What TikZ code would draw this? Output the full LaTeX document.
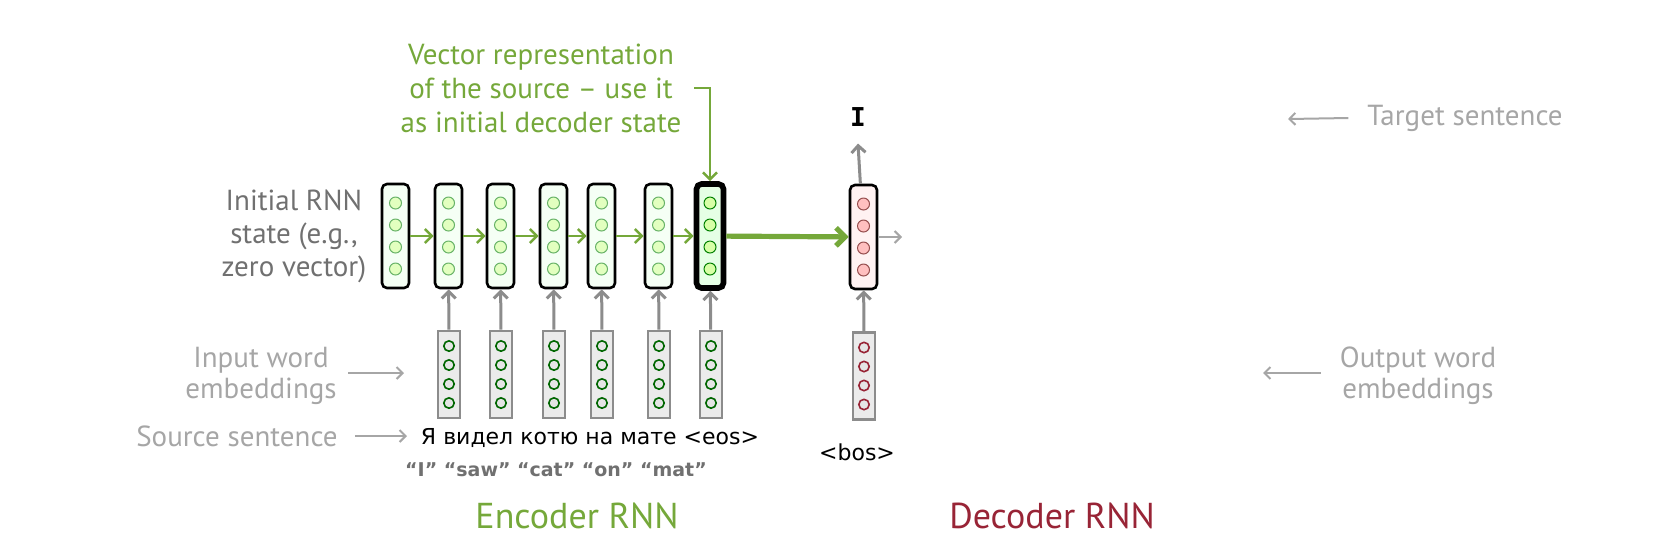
\documentclass[tikz,border=0pt]{standalone}
\usepackage{fontspec}
\setmainfont{PT Sans}
\newfontfamily\comicfont{DejaVu Sans}
\newfontfamily\typefont{DejaVu Sans Mono}
\usetikzlibrary{arrows.meta,positioning,calc}

\definecolor{encgreen}{RGB}{117,168,58}
\definecolor{decred}{RGB}{152,36,54}
\definecolor{labelgray}{RGB}{166,166,166}
\definecolor{darkgray}{RGB}{112,112,112}
\definecolor{arrowgray}{RGB}{140,140,140}

\begin{document}
\begin{tikzpicture}[x=0.5pt, y=-0.5pt,
    state/.style={draw=black, line width=1.3pt, rounded corners=2.5pt, fill=green!4,
        minimum width=13.5pt, minimum height=52pt, inner sep=0pt},
    last state/.style={state, line width=2.8pt, fill=green!10},
    dec state/.style={state, fill=red!5},
    emb/.style={draw=arrowgray, line width=1.3pt, fill=black!8,
        minimum width=11pt, minimum height=43.5pt, inner sep=0pt},
    cell/.style={draw=green!50!black!60, fill=green!45!yellow!25, line width=0.5pt},
    emb cell/.style={draw=green!40!black, fill=black!10, line width=0.8pt},
    dec cell/.style={draw=red!40!black!70, fill=red!25, line width=0.5pt},
    dec emb cell/.style={draw=decred, fill=black!10, line width=0.8pt},
    rnn arrow/.style={-{Straight Barb[length=3.5pt,width=7pt]}, draw=encgreen, line width=1.3pt},
    up arrow/.style={-{Straight Barb[length=3.5pt,width=7pt]}, draw=arrowgray, line width=1.5pt},
    note arrow/.style={-{Straight Barb[length=3pt,width=6pt]}, draw=labelgray, line width=1pt},
    note/.style={align=center, font=\fontsize{14.5}{16.5}\selectfont},
    word/.style={font=\comicfont\fontsize{11}{13}\selectfont}]

    \useasboundingbox (0,0) rectangle (1668,554);

    % Encoder states
    \node[state] (s0) at (395.5,236) {};
    \node[state] (s1) at (448.5,236) {};
    \node[state] (s2) at (500.5,236) {};
    \node[state] (s3) at (553.5,236) {};
    \node[state] (s4) at (601.5,236) {};
    \node[state] (s5) at (658.5,236) {};
    \node[last state] (s6) at (710,236) {};

    % Input word embeddings
    \node[emb] (e1) at (449,374.5) {};
    \node[emb] (e2) at (501,374.5) {};
    \node[emb] (e3) at (554,374.5) {};
    \node[emb] (e4) at (602,374.5) {};
    \node[emb] (e5) at (659,374.5) {};
    \node[emb] (e6) at (711,374.5) {};

    % Decoder
    \node[dec state] (d0) at (863.5,237) {};
    \node[emb] (de0) at (864,376) {};

    \foreach \s in {s0,s1,s2,s3,s4,s5}
        \foreach \dy in {-33,-11,11,33}
            \draw[cell] ($(\s)+(0,\dy)$) circle (3pt);
    \foreach \dy in {-33,-11,11,33}
        \draw[cell, draw=green!50!black, fill=green!45!yellow!35] ($(s6)+(0,\dy)$) circle (3pt);
    \foreach \dy in {-33,-11,11,33}
        \draw[dec cell] ($(d0)+(0,\dy)$) circle (3pt);
    \foreach \e in {e1,e2,e3,e4,e5,e6}
        \foreach \dy in {-28.5,-9.5,9.5,28.5}
            \draw[emb cell] ($(\e)+(0,\dy)$) circle (2.6pt);
    \foreach \dy in {-28.5,-9.5,9.5,28.5}
        \draw[dec emb cell] ($(de0)+(0,\dy)$) circle (2.6pt);

    % Recurrent connections
    \draw[rnn arrow] (s0) -- (s1);
    \draw[rnn arrow] (s1) -- (s2);
    \draw[rnn arrow] (s2) -- (s3);
    \draw[rnn arrow] (s3) -- (s4);
    \draw[rnn arrow] (s4) -- (s5);
    \draw[rnn arrow] (s5) -- (s6);
    \draw[rnn arrow, line width=2.6pt, -{Straight Barb[length=4.5pt,width=9pt]}]
        (s6) -- (d0);

    % Embeddings into states
    \foreach \i in {1,...,6}
        \draw[up arrow] (e\i) -- (s\i);
    \draw[up arrow] (de0) -- (d0);

    % Decoder output
    \node[font=\typefont\bfseries\fontsize{13}{13}\selectfont] (out) at (858,117) {I};
    \draw[up arrow] (d0) -- ([yshift=-5pt]out.south);
    \coordinate (dnext) at (902,237);
    \draw[note arrow, draw=labelgray] (d0) -- (dnext);

    % Vector representation
    \node[note, text=encgreen, font=\fontsize{14.5}{17}\selectfont] (vec) at (541,88)
        {Vector representation\\of the source -- use it\\as initial decoder state};
    \coordinate (vecbend) at (710,88);
    \draw[rnn arrow] ([xshift=3pt]vec.east) -- (vecbend) -- (s6);

    % Words
    \node[word] (src) at (590,438) {Я видел котю на мате <eos>};
    \node[word, text=darkgray, font=\comicfont\bfseries\fontsize{9.5}{11}\selectfont] (gloss) at (556,470)
        {“I” “saw” “cat” “on” “mat”};
    \node[word] (bos) at (857,452) {<bos>};

    % Left notes
    \node[note, text=darkgray] (init) at (294,236) {Initial RNN\\state (e.g.,\\zero vector)};
    \node[note, text=labelgray, font=\fontsize{14.5}{15.5}\selectfont] (inemb) at (261,376) {Input word\\embeddings};
    \node[note, text=labelgray] (srcnote) at (237,436) {Source sentence};
    \coordinate (inemb end) at (404,373);
    \coordinate (src end) at (407,436);
    \draw[note arrow] (348,373) -- (inemb end);
    \draw[note arrow] ([xshift=5pt]srcnote.east) -- (src end);

    % Right notes
    \node[note, text=labelgray] (tgtnote) at (1465,118) {Target sentence};
    \node[note, text=labelgray, font=\fontsize{14.5}{15.5}\selectfont] (outemb) at (1418,376) {Output word\\embeddings};
    \coordinate (tgt end) at (1288,119);
    \coordinate (outemb end) at (1263,373);
    \draw[note arrow] ([xshift=-6pt]tgtnote.west) -- (tgt end);
    \draw[note arrow] ([xshift=-6pt]outemb.west |- outemb end) -- (outemb end);

    % Titles
    \node[font=\fontsize{18}{20}\selectfont, text=encgreen] (enc) at (577,516) {Encoder RNN};
    \node[font=\fontsize{18}{20}\selectfont, text=decred] (dec) at (1052,516) {Decoder RNN};

\end{tikzpicture}
\end{document}
